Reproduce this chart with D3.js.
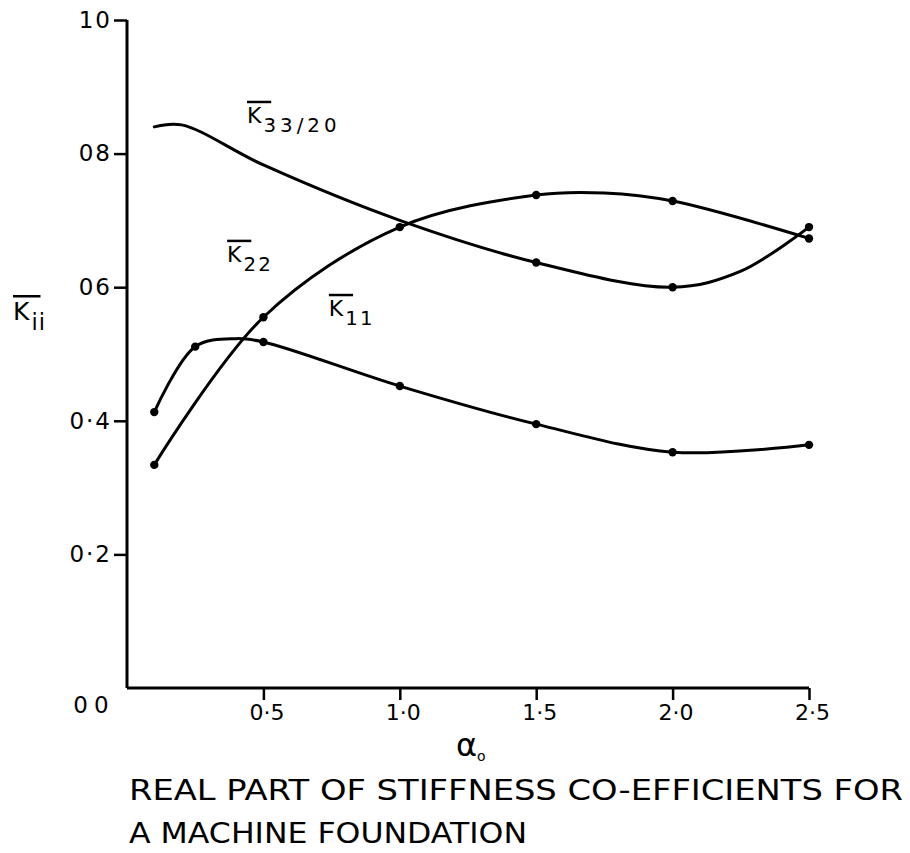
<!DOCTYPE html>
<html>
<head>
<meta charset="utf-8">
<script src="https://cdn.jsdelivr.net/npm/d3@7"></script>
<style>
  html, body { margin: 0; padding: 0; background: #fff; }
  svg { display: block; }
  text { font-family: "DejaVu Sans", "Liberation Sans", sans-serif; fill: #000; }
</style>
</head>
<body>
<svg id="chart" width="910" height="853"></svg>
<script>
// Real part of the stiffness coefficients against the frequency factor a0.
// Each series: abscissae, values, and whether the point is a plotted dot.
const k11Alpha  = [0.1, 0.25, 0.4, 0.5, 1.0, 1.5, 2.0, 2.5];
const k11Value  = [0.413, 0.511, 0.523, 0.518, 0.452, 0.395, 0.353, 0.364];
const k11Dotted = [true, true, false, true, true, true, true, true];

const k22Alpha  = [0.1, 0.5, 1.0, 1.5, 1.75, 2.0, 2.5];
const k22Value  = [0.334, 0.555, 0.69, 0.738, 0.741, 0.729, 0.673];
const k22Dotted = [true, true, true, true, false, true, true];

const k33Alpha  = [0.1, 0.2, 0.5, 1.0, 1.5, 2.0, 2.25, 2.5];
const k33Value  = [0.84, 0.843, 0.783, 0.70, 0.637, 0.60, 0.624, 0.69];
const k33Dotted = [false, false, false, false, true, true, false, true];

const xTickValues = [0.5, 1.0, 1.5, 2.0, 2.5];
const xTickLabels = ["0·5", "1·0", "1·5", "2·0", "2·5"];
const yTickValues = [0.2, 0.4, 0.6, 0.8, 1.0];
const yTickLabels = ["0·2", "0·4", "06", "08", "10"];
const originLabel = "00";

const titleLines = ["REAL PART OF STIFFNESS CO-EFFICIENTS FOR", "A MACHINE FOUNDATION"];

const svg = d3.select("#chart");
const x = d3.scaleLinear().domain([0, 2.5]).range([127, 809]);
const y = d3.scaleLinear().domain([0, 1]).range([688, 20]);

const ink = "#000";

// axes
const yAxis = d3.axisLeft(y).tickValues(yTickValues).tickSize(13).tickPadding(2)
  .tickFormat((d, i) => yTickLabels[i]);
const gy = svg.append("g").attr("transform", `translate(${x(0)},0)`).call(yAxis);
gy.select(".domain").attr("d", `M0,${y(0)}V${y(1)}`).attr("stroke", ink).attr("stroke-width", 3);
gy.selectAll(".tick line").attr("stroke", ink).attr("stroke-width", 2.5);
gy.selectAll(".tick text").attr("font-size", 23).attr("letter-spacing", 2)
  .attr("fill", ink).attr("font-family", null);

const xAxis = d3.axisBottom(x).tickValues(xTickValues).tickSize(12).tickPadding(4)
  .tickFormat((d, i) => xTickLabels[i]);
const gx = svg.append("g").attr("transform", `translate(0,${y(0)})`).call(xAxis);
gx.select(".domain").attr("d", `M${x(0)},0H${x(2.5)}`).attr("stroke", ink).attr("stroke-width", 3);
gx.selectAll(".tick line").attr("stroke", ink).attr("stroke-width", 2.5);
gx.selectAll(".tick text").attr("font-size", 22).attr("fill", ink).attr("font-family", null)
  .attr("dx", 3);

svg.append("text")
  .attr("x", x(0) - 33).attr("y", y(0) + 25)
  .attr("text-anchor", "middle").attr("font-size", 23).attr("letter-spacing", 6)
  .text(originLabel);

// curves
const line = d3.line()
  .x(d => x(d.a)).y(d => y(d.v))
  .curve(d3.curveCatmullRom.alpha(0.5));

function series(alpha, value, dotted) {
  return alpha.map((a, i) => ({ a, v: value[i], dot: dotted[i] }));
}
const allSeries = [
  series(k11Alpha, k11Value, k11Dotted),
  series(k22Alpha, k22Value, k22Dotted),
  series(k33Alpha, k33Value, k33Dotted)
];

const gc = svg.append("g");
allSeries.forEach(pts => {
  gc.append("path").datum(pts)
    .attr("d", line)
    .attr("fill", "none").attr("stroke", ink).attr("stroke-width", 3)
    .attr("stroke-linecap", "round").attr("stroke-linejoin", "round");
  gc.selectAll(null).data(pts.filter(p => p.dot)).enter()
    .append("circle")
    .attr("cx", d => x(d.a)).attr("cy", d => y(d.v)).attr("r", 4.2)
    .attr("fill", ink);
});

// curve labels: K with an overbar and a lowered suffix
function kLabel(px, py, sub, size, spacing) {
  const g = svg.append("g").attr("transform", `translate(${px},${py})`);
  const t = g.append("text").attr("font-size", size);
  t.append("tspan").text("K");
  t.append("tspan").attr("dy", size * 0.4).attr("dx", 2)
    .attr("font-size", size * 0.9).attr("letter-spacing", spacing).text(sub);
  g.append("line")
    .attr("x1", 0).attr("x2", size * 1.1)
    .attr("y1", -size * 0.95).attr("y2", -size * 0.95)
    .attr("stroke", ink).attr("stroke-width", 2.5);
}
kLabel(x(0.44), y(0.846), "33/20", 22, 4);
kLabel(x(0.367), y(0.638), "22", 22, 2);
kLabel(x(0.74), y(0.557), "11", 22, 2);
kLabel(13, 320, "ii", 25, 1);

// axis title a0
const at = svg.append("text").attr("x", x(1.26)).attr("y", y(0) + 68).attr("font-size", 32)
  .attr("text-anchor", "middle");
at.append("tspan").text("α");
at.append("tspan").attr("font-size", 14).attr("dy", 5).text("o");

// figure caption
svg.selectAll(".caption").data(titleLines).enter()
  .append("text").attr("class", "caption")
  .attr("x", 129).attr("y", (d, i) => 800 + i * 43)
  .attr("font-size", 28)
  .attr("textLength", (d, i) => i === 0 ? 774 : 398)
  .attr("lengthAdjust", "spacingAndGlyphs")
  .text(d => d);
</script>
</body>
</html>
